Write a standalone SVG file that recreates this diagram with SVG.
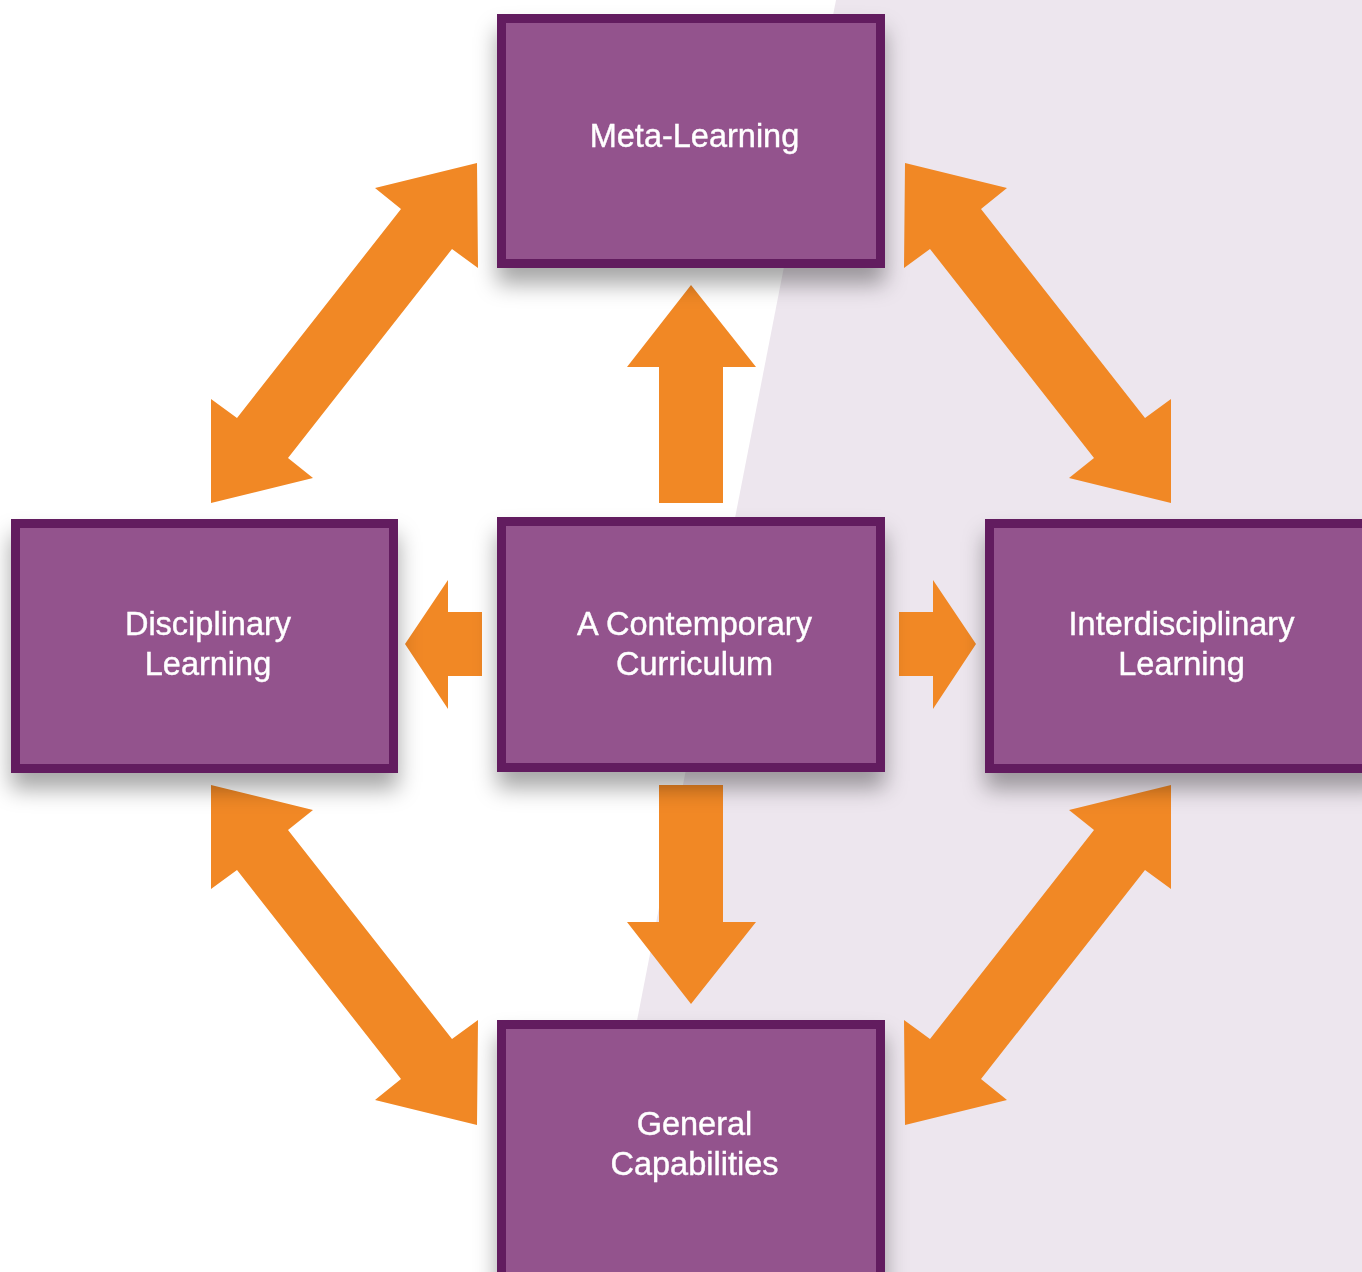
<svg xmlns="http://www.w3.org/2000/svg" width="1362" height="1272" viewBox="0 0 1362 1272">
  <defs>
    <filter id="sh" x="-20%" y="-20%" width="140%" height="160%">
      <feDropShadow dx="0" dy="16" stdDeviation="11" flood-color="#000" flood-opacity="0.35"/>
    </filter>
    <style>
      .box { fill: #93528D; stroke: #621B5E; stroke-width: 9; }
      .arr { fill: #F18825; }
      .lbl { fill: #FFFFFF; stroke: #FFFFFF; stroke-width: 0.4; font-family: "Liberation Sans", Arial, sans-serif; font-size: 32.5px; text-anchor: middle; }
    </style>
  </defs>
  <rect x="0" y="0" width="1362" height="1272" fill="#FFFFFF"/>
  <polygon points="836,0 1362,0 1362,1272 588,1272" fill="#EDE6EE"/>

  <g id="connectors">
    <polygon class="arr" points="659,503 723,503 723,367 756,367 691,285 627,367 659,367"/>
    <polygon class="arr" points="659,785 723,785 723,922 756,922 691,1004 627,922 659,922"/>
    <polygon class="arr" points="482,612 482,676 448,676 448,709 405,644 448,580 448,612"/>
    <polygon class="arr" points="899,612 899,676 933,676 933,709 976,644 933,580 933,612"/>
    <polygon class="arr" points="477,163 375,188 401,209 237,418 211,399 211,503 313,478 288,458 452,249 478,268"/>
    <polygon class="arr" points="905,163 1007,188 981,209 1145,418 1171,399 1171,503 1069,478 1094,458 930,249 904,268"/>
    <polygon class="arr" points="477,1125 375,1100 401,1079 237,870 211,889 211,785 313,810 288,830 452,1039 478,1020"/>
    <polygon class="arr" points="905,1125 1007,1100 981,1079 1145,870 1171,889 1171,785 1069,810 1094,830 930,1039 904,1020"/>
  </g>

  <g id="node-meta" filter="url(#sh)">
    <rect class="box" x="501.5" y="18.5" width="379" height="245"/>
    <text class="lbl" x="694.5" y="147">Meta-Learning</text>
  </g>
  <g id="node-centre" filter="url(#sh)">
    <rect class="box" x="501.5" y="521.5" width="379" height="246"/>
    <text class="lbl" x="694.5" y="635">A Contemporary</text>
    <text class="lbl" x="694.5" y="675">Curriculum</text>
  </g>
  <g id="node-disciplinary" filter="url(#sh)">
    <rect class="box" x="15.5" y="523.5" width="378" height="245"/>
    <text class="lbl" x="208" y="635">Disciplinary</text>
    <text class="lbl" x="208" y="675">Learning</text>
  </g>
  <g id="node-interdisciplinary" filter="url(#sh)">
    <rect class="box" x="989.5" y="523.5" width="390" height="245"/>
    <text class="lbl" x="1181.5" y="635">Interdisciplinary</text>
    <text class="lbl" x="1181.5" y="675">Learning</text>
  </g>
  <g id="node-general" filter="url(#sh)">
    <rect class="box" x="501.5" y="1024.5" width="379" height="260"/>
    <text class="lbl" x="694.5" y="1135">General</text>
    <text class="lbl" x="694.5" y="1175">Capabilities</text>
  </g>
</svg>
